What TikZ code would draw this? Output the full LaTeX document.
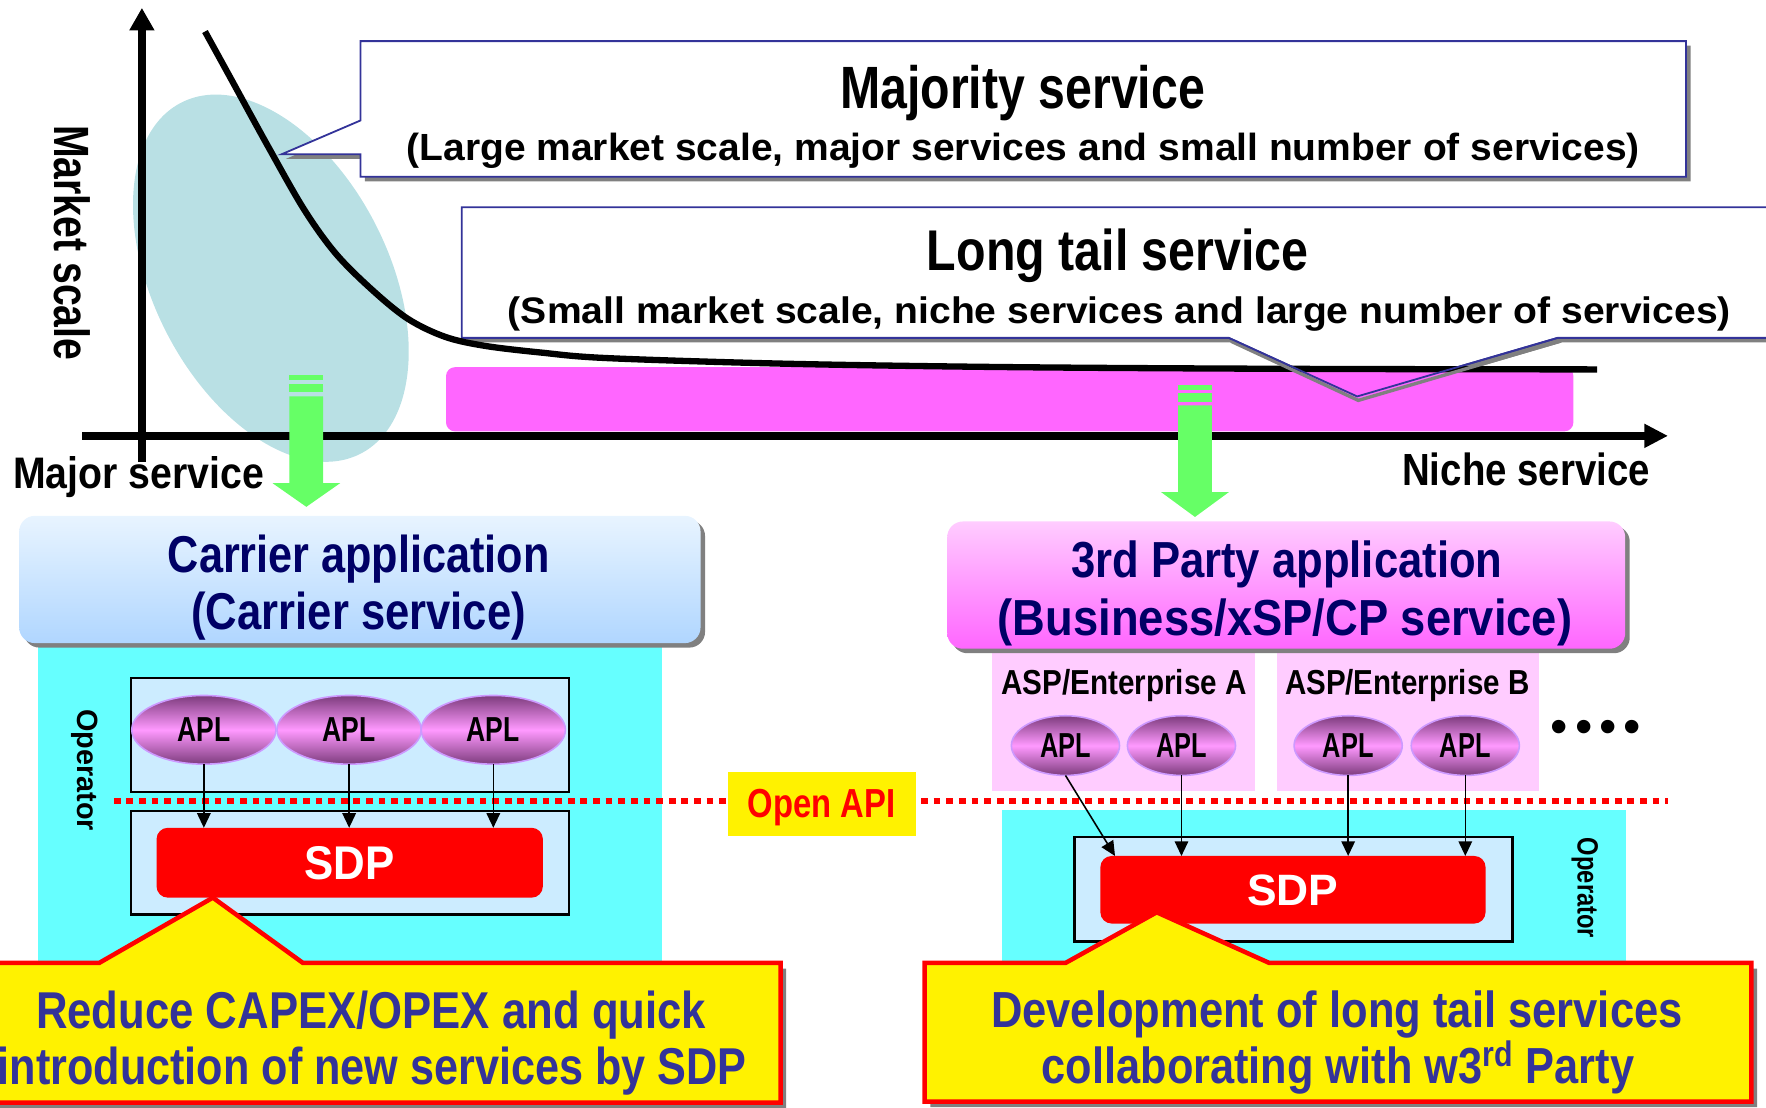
\documentclass[tikz,border=0pt]{standalone}
\usepackage{fontspec}
\setmainfont{Liberation Sans}
\usepackage{graphicx}
\usetikzlibrary{shapes.geometric,arrows.meta,calc}
\newcommand\fitw[2]{\resizebox{#1}{\height}{#2}}
\newcommand\fsz[1]{\fontsize{#1}{#1}\selectfont}
\definecolor{ellc}{RGB}{185,224,228}
\definecolor{magbar}{RGB}{255,102,255}
\definecolor{grn}{RGB}{102,255,102}
\definecolor{cyanbg}{RGB}{102,255,255}
\definecolor{innerbl}{RGB}{204,236,255}
\definecolor{navy}{RGB}{0,0,102}
\definecolor{calltxt}{RGB}{51,51,153}
\definecolor{callline}{RGB}{51,51,153}
\definecolor{aspbg}{RGB}{255,204,255}
\definecolor{aplmid}{RGB}{255,153,255}
\definecolor{apldark}{RGB}{125,60,125}
\definecolor{aplbord}{RGB}{204,153,255}
\definecolor{shadowgr}{RGB}{128,128,128}
\definecolor{carTop}{RGB}{232,244,255}
\definecolor{carBot}{RGB}{176,214,255}
\definecolor{tpTop}{RGB}{255,204,255}
\definecolor{tpBot}{RGB}{255,102,255}
\begin{document}
\begin{tikzpicture}[x=0.5pt,y=-0.5pt,
  every node/.style={inner sep=0pt,outer sep=0pt},
  lbl/.style={anchor=base,font=\bfseries},
  callout/.style={fill=white,draw=callline,line width=0.8pt,line join=miter},
  yellowcall/.style={fill=yellow,draw=red,line width=2pt,line join=miter},
  innerbox/.style={rectangle,fill=innerbl,draw=black,line width=1pt},
  aplnode/.style={ellipse,draw=aplbord,line width=0.7pt,top color=apldark,bottom color=apldark,middle color=aplmid,text depth=0pt},
  sdpnode/.style={rectangle,rounded corners=5pt,fill=red,text=white,text depth=0pt},
  aplarrow/.style={line width=0.7pt,-{Triangle[length=6.5pt,width=6pt]}},
  axisline/.style={line width=3.4pt}]
\useasboundingbox (0,0) rectangle (1568,983);
\clip (0,0) rectangle (1568,983);

% ellipse of major services
\fill[ellc,rotate around={27:(240.5,247)}] (240.5,247) ellipse [x radius=52.25pt,y radius=87.5pt];

% top callout
\fill[shadowgr,shift={(4,4)}] (320,36.5) -- (1497,36.5) -- (1497,157) -- (320,157) -- (320,137) -- (250,137) -- (320,107) -- cycle;
\path[callout] (320,36.5) -- (1497,36.5) -- (1497,157) -- (320,157) -- (320,137) -- (250,137) -- (320,107) -- cycle;

% long tail callout
\fill[shadowgr,shift={(4,4)}] (410,184) -- (1600,184) -- (1600,300) -- (1383,300) -- (1205,352) -- (1091,300) -- (410,300) -- cycle;
\path[callout] (410,184) -- (1600,184) -- (1600,300) -- (1383,300) -- (1205,352) -- (1091,300) -- (410,300) -- cycle;

% magenta bar
\fill[magbar,rounded corners=4pt] (396,326) rectangle (1397,383);

% curve
\draw[line width=2.8pt] plot[smooth,tension=0.55] coordinates {(182,28) (204,68) (238,130) (270,186) (298,225) (330,257) (362,283) (395,299) (430,307) (480,313) (540,318) (700,323) (900,326) (1150,327.5) (1418,328)};

% pointer edges over the bar
\draw[shadowgr,line width=1.5pt] (1093,303) -- (1206,355.5) -- (1385,303);
\draw[callline,line width=0.8pt] (1091,300) -- (1205,352) -- (1383,300);

% axes
\draw[axisline,-{Triangle[length=10pt,width=10.5pt]}] (126,410) -- (126,7);
\draw[axisline,-{Triangle[length=10.5pt,width=10pt]}] (73,387) -- (1481,387);

% green arrows
\fill[grn] (257,333) rectangle (287,337);
\fill[grn] (257,341) rectangle (287,348);
\fill[grn] (257,352) -- (287,352) -- (287,429) -- (302,429) -- (272,450) -- (242,429) -- (257,429) -- cycle;
\fill[grn] (1046,342) rectangle (1076,346);
\fill[grn] (1046,349) rectangle (1076,357);
\fill[grn] (1046,360) -- (1076,360) -- (1076,437) -- (1091,437) -- (1061,459) -- (1031,437) -- (1046,437) -- cycle;

% top texts
\node[lbl,font=\bfseries\fsz{26.5}] (tmaj) at (908,96) {\fitw{162pt}{Majority service}};
\node[lbl,font=\bfseries\fsz{16.8}] (tmaj2) at (908.5,142.5) {\fitw{547.5pt}{(Large market scale, major services and small number of services)}};
\node[lbl,font=\bfseries\fsz{25.5}] (tlong) at (992.5,240.5) {\fitw{169.5pt}{Long tail service}};
\node[lbl,font=\bfseries\fsz{16.4}] (tlong2) at (994,287) {\fitw{543pt}{(Small market scale, niche services and large number of services)}};
\node[font=\bfseries\fsz{22},rotate=-90] (tmarket) at (64.5,215.5) {\fitw{104.5pt}{Market scale}};
\node[lbl,font=\bfseries\fsz{19.6}] (tmajor) at (123.2,433.6) {\fitw{111.4pt}{Major service}};
\node[lbl,font=\bfseries\fsz{20}] (tniche) at (1355,431) {\fitw{110pt}{Niche service}};

% operator regions and ASP regions
\fill[cyanbg] (34,540) rectangle (588,858);
\fill[cyanbg] (890,719) rectangle (1444,856);
\fill[aspbg] (881,560) rectangle (1114,702);
\fill[aspbg] (1134,560) rectangle (1366,702);

% application boxes
\fill[shadowgr,rounded corners=7pt] (21,462) rectangle (626,575);
\node[rectangle,rounded corners=7pt,top color=carTop,bottom color=carBot,minimum width=302.5pt,minimum height=56.5pt] (carrier) at (319.5,514.5) {};
\fill[shadowgr,rounded corners=7pt] (845,467) rectangle (1447,580);
\node[rectangle,rounded corners=7pt,top color=tpTop,bottom color=tpBot,minimum width=301pt,minimum height=56.5pt] (third) at (1142,519.5) {};

\node[lbl,font=\bfseries\fsz{23},text=navy] (tcar1) at (318.5,508) {\fitw{169.5pt}{Carrier application}};
\node[lbl,font=\bfseries\fsz{23},text=navy] (tcar2) at (318.5,559) {\fitw{148.5pt}{(Carrier service)}};
\node[lbl,font=\bfseries\fsz{22.5},text=navy] (ttp1) at (1142.5,513) {\fitw{191.5pt}{3rd Party application}};
\node[lbl,font=\bfseries\fsz{22.5},text=navy] (ttp2) at (1141,564) {\fitw{255pt}{(Business/xSP/CP service)}};

\node[lbl,font=\bfseries\fsz{15.4}] (aspA) at (998,617) {\fitw{109pt}{ASP/Enterprise A}};
\node[lbl,font=\bfseries\fsz{15.4}] (aspB) at (1249.5,617) {\fitw{108.5pt}{ASP/Enterprise B}};
\node[font=\fsz{22}] (dots) at (1417,650) {•\hspace{3.15pt}•\hspace{3.15pt}•\hspace{3.15pt}•};

% inner boxes
\node[innerbox,minimum width=194.5pt,minimum height=50.5pt] (upL) at (310.5,652.5) {};
\node[innerbox,minimum width=194.5pt,minimum height=46pt] (lowL) at (310.5,766) {};
\node[innerbox,minimum width=194.5pt,minimum height=46.5pt] (lowR) at (1148.5,789.5) {};

% APL nodes
\node[aplnode,minimum width=64pt,minimum height=30.5pt,font=\bfseries\fsz{15.4}] (aplL1) at (181,648) {\fitw{23.5pt}{APL}};
\node[aplnode,minimum width=64pt,minimum height=30.5pt,font=\bfseries\fsz{15.4}] (aplL2) at (310,648) {\fitw{23.5pt}{APL}};
\node[aplnode,minimum width=64pt,minimum height=30.5pt,font=\bfseries\fsz{15.4}] (aplL3) at (438,648) {\fitw{23.5pt}{APL}};
\node[aplnode,minimum width=48pt,minimum height=26.5pt,font=\bfseries\fsz{15.4}] (aplA1) at (946,662) {\fitw{22.5pt}{APL}};
\node[aplnode,minimum width=48pt,minimum height=26.5pt,font=\bfseries\fsz{15.4}] (aplA2) at (1049,662) {\fitw{22.5pt}{APL}};
\node[aplnode,minimum width=48pt,minimum height=26.5pt,font=\bfseries\fsz{15.4}] (aplB1) at (1197,662) {\fitw{22.5pt}{APL}};
\node[aplnode,minimum width=48pt,minimum height=26.5pt,font=\bfseries\fsz{15.4}] (aplB2) at (1301,662) {\fitw{22.5pt}{APL}};

% SDP nodes
\node[sdpnode,minimum width=171.5pt,minimum height=31pt,font=\bfseries\fsz{21}] (sdpL) at (310.5,766) {\fitw{40pt}{SDP}};
\node[sdpnode,minimum width=171pt,minimum height=30pt,font=\bfseries\fsz{19.5}] (sdpR) at (1148,790) {\fitw{40.5pt}{SDP}};

% operator labels
\node[font=\bfseries\fsz{13},rotate=-90] (opL) at (75.5,684) {\fitw{54pt}{Operator}};
\node[font=\bfseries\fsz{13},rotate=-90] (opR) at (1407,788.5) {\fitw{44.5pt}{Operator}};

% open API line
\draw[red,line width=2.5pt,dash pattern=on 3pt off 2.6pt] (101,711) -- (1481,711);
\node[rectangle,fill=yellow,minimum width=83.5pt,minimum height=28.5pt,text depth=0pt,font=\bfseries\fsz{18},text=red] (oapi) at (729.5,713.5) {\fitw{65.5pt}{Open API}};

% arrows APL -> SDP
\draw[aplarrow] (aplL1.south) -- (aplL1.south |- sdpL.north);
\draw[aplarrow] (aplL2.south) -- (aplL2.south |- sdpL.north);
\draw[aplarrow] (aplL3.south) -- (aplL3.south |- sdpL.north);
\draw[aplarrow] (aplA1.south) -- ([xshift=6.5pt]sdpR.north west);
\draw[aplarrow] (aplA2.south) -- (aplA2.south |- sdpR.north);
\draw[aplarrow] (aplB1.south) -- (aplB1.south |- sdpR.north);
\draw[aplarrow] (aplB2.south) -- (aplB2.south |- sdpR.north);

% yellow callouts
\fill[shadowgr,shift={(5,5)}] (-10,855) -- (88,855) -- (189,797) -- (269,855) -- (693,855) -- (693,979) -- (-10,979) -- cycle;
\path[yellowcall] (-10,855) -- (88,855) -- (189,797) -- (269,855) -- (693,855) -- (693,979) -- (-10,979) -- cycle;
\fill[shadowgr,shift={(5,5)}] (821,855) -- (946,855) -- (1027,810) -- (1127,855) -- (1555,855) -- (1555,978) -- (821,978) -- cycle;
\path[yellowcall] (821,855) -- (946,855) -- (1027,810) -- (1127,855) -- (1555,855) -- (1555,978) -- (821,978) -- cycle;

\node[lbl,font=\bfseries\fsz{23},text=calltxt] (ty1) at (329.5,913) {\fitw{297.5pt}{Reduce CAPEX/OPEX and quick}};
\node[lbl,font=\bfseries\fsz{23},text=calltxt] (ty2) at (330.5,963) {\fitw{332.5pt}{introduction of new services by SDP}};
\node[lbl,font=\bfseries\fsz{22.5},text=calltxt] (ty3) at (1187,912) {\fitw{307pt}{Development of long tail services}};
\node[lbl,font=\bfseries\fsz{22.5},text=calltxt] (ty4) at (1188,962) {\fitw{263pt}{collaborating with w3\textsuperscript{rd} Party}};
\end{tikzpicture}
\end{document}
